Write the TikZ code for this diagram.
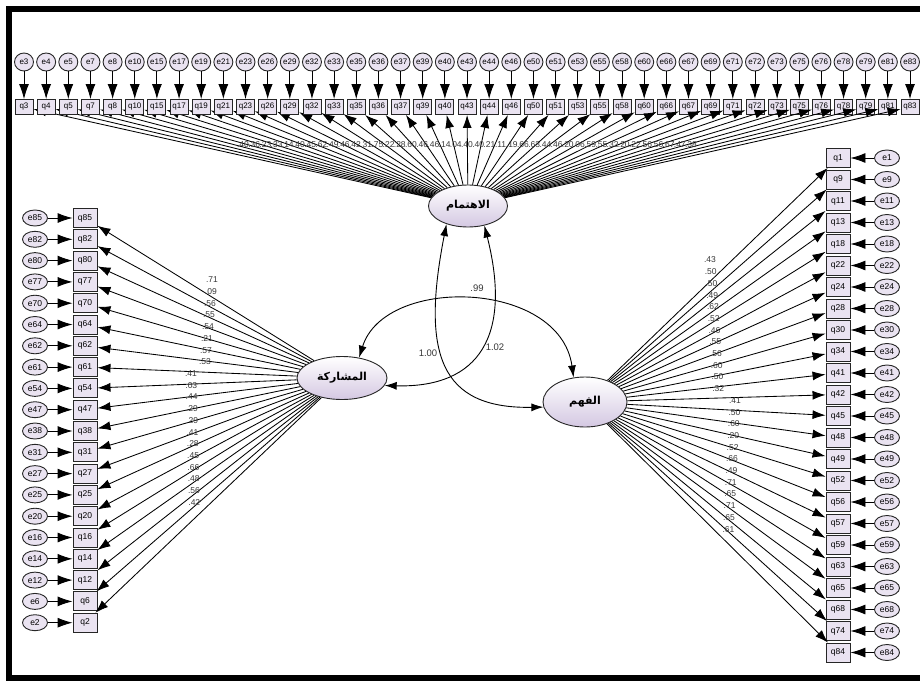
\documentclass[tikz,border=0pt]{standalone}
\usepackage{fontspec}
\setmainfont{Liberation Sans}
\newfontfamily\arabicfont[Script=Arabic]{DejaVu Sans}
\TeXXeTstate=1
\usetikzlibrary{arrows.meta,shapes.geometric}
\definecolor{itemfill}{RGB}{234,227,241}
\definecolor{latfill}{RGB}{212,200,226}
\definecolor{loadgray}{RGB}{55,55,55}

\begin{document}
\begin{tikzpicture}[x=1pt, y=-1pt,
  item/.style={draw=black!85, line width=0.9pt, fill=itemfill, inner sep=0pt,
               font=\fontsize{8}{8}\selectfont},
  topitem/.style={item, minimum width=18pt, minimum height=15pt},
  sideitem/.style={item, minimum width=24pt, minimum height=19pt,
                   font=\fontsize{8.5}{8.5}\selectfont},
  err/.style={ellipse, draw=black!85, line width=0.9pt, fill=itemfill, inner sep=0pt,
              font=\fontsize{8}{8}\selectfont},
  toperr/.style={err, minimum width=19pt, minimum height=18pt},
  sideerr/.style={err, minimum width=25pt, minimum height=16pt,
                  font=\fontsize{8.5}{8.5}\selectfont},
  latent/.style={ellipse, draw=black!85, line width=0.9pt, top color=white,
                 bottom color=latfill, inner sep=0pt,
                 font=\arabicfont\bfseries\fontsize{11}{11}\selectfont},
  arr/.style={-{Latex[length=13pt,width=9pt]}, line width=0.85pt},
  errarr/.style={-{Latex[length=15pt,width=10pt]}, line width=0.9pt},
  cov/.style={{Latex[length=12pt,width=8pt]}-{Latex[length=12pt,width=8pt]}, line width=0.9pt},
  lbl/.style={font=\fontsize{8.5}{8.5}\selectfont, text=loadgray, inner sep=0pt}
]
  \useasboundingbox (0,0) rectangle (920,680);
  \fill[white] (0,0) rectangle (920,680);
  % frame
  \draw[line width=6pt] (9,8.5) rectangle (940,677.5);

  % latent factors
  \node[latent, minimum width=79pt, minimum height=42pt] (interest) at (468,206) {\beginR الاهتمام\endR};
  \node[latent, minimum width=90pt, minimum height=43pt] (share) at (342,378) {\beginR المشاركة\endR};
  \node[latent, minimum width=84pt, minimum height=50pt] (grasp) at (585,402) {\beginR الفهم\endR};

  % top items with their errors
  \foreach \n [count=\i from 0] in {3,4,5,7,8,10,15,17,19,21,23,26,29,32,33,35,36,37,39,40,
      43,44,46,50,51,53,55,58,60,66,67,69,71,72,73,75,76,78,79,81,83} {
    \node[toperr] (e\n) at ({24+22.15*\i},62) {e\n};
    \node[topitem] (q\n) at ({24+22.15*\i},107) {q\n};
    \draw[errarr] (e\n) -- (q\n);
    \draw[arr] (interest) -- (q\n);
  }

  % left items
  \foreach \n [count=\i from 0] in {85,82,80,77,70,64,62,61,54,47,38,31,27,25,20,16,14,12,6,2} {
    \node[sideitem] (q\n) at (85,{218+21.3*\i}) {q\n};
    \node[sideerr] (e\n) at (35,{218+21.3*\i}) {e\n};
    \draw[errarr] (e\n) -- (q\n);
    \draw[arr] (share) -- (q\n);
  }

  % right items
  \foreach \n [count=\i from 0] in {1,9,11,13,18,22,24,28,30,34,41,42,45,48,49,52,56,57,59,63,65,68,74,84} {
    \node[sideitem] (q\n) at (838,{158+21.5*\i}) {q\n};
    \node[sideerr] (e\n) at (887,{158+21.5*\i}) {e\n};
    \draw[errarr] (e\n) -- (q\n);
    \draw[arr] (grasp) -- (q\n);
  }

  % loadings
  \foreach \v [count=\i from 0] in {.40,.36,.23,.33,.14,.40,.45,.62,.49,.46,.42,.31,.75,.22,
      .28,.60,.46,.46,.14,.04,.40,.40,.21,.11,.19,.66,.63,.44,.46,.20,.06,.59,.55,.32,.20,
      .22,.56,.56,.67,.47,.38} {
    \node[lbl] (lt\i) at ({243+11.2*\i},145) {\v};
  }
  \foreach \v [count=\i from 0] in {.71,.09,.56,.55,.54,.21,.57,.53,.41,.03,.44,.29,.29,.41,
      .28,.45,.66,.48,.56,.42} {
    \pgfmathsetmacro\lx{\i<8 ? 212-\i : 191+0.3*(\i-8)}
    \node[lbl] (ll\i) at (\lx,{280+11.7*\i}) {\v};
  }
  \foreach \v [count=\i from 0] in {.43,.50,.50,.49,.62,.52,.46,.55,.56,.60,.50,.32,.41,.50,
      .60,.20,.52,.66,.49,.71,.65,.71,.65,.61} {
    \pgfmathsetmacro\lx{\i<12 ? 710+0.75*\i : 735-0.6*(\i-12)}
    \node[lbl] (lr\i) at (\lx,{260+11.7*\i}) {\v};
  }

  % covariances
  \draw[cov] (interest.-140) .. controls (421,354) and (440,409) .. (grasp.187);
  \draw[cov] (interest.-50) .. controls (512,335) and (480,388) .. (share.-10);
  \draw[cov] (share.50) .. controls (385,275) and (560,280) .. (grasp.115);
  \node[lbl, font=\fontsize{9.5}{9.5}\selectfont] (c1) at (477,288) {.99};
  \node[lbl, font=\fontsize{9.5}{9.5}\selectfont] (c2) at (428,353) {1.00};
  \node[lbl, font=\fontsize{9.5}{9.5}\selectfont] (c3) at (495,347) {1.02};
\end{tikzpicture}
\end{document}
